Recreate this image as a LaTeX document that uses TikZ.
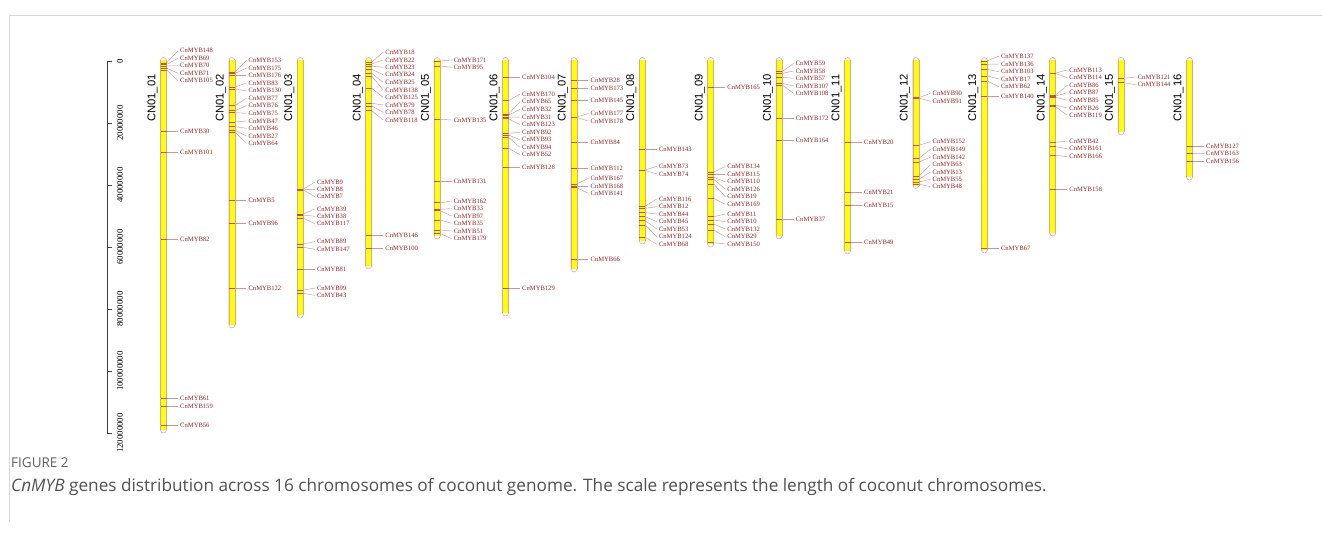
\documentclass[tikz,border=0pt]{standalone}
\usepackage{fontspec}
\setmainfont{Liberation Serif}
\newfontfamily\chrfont{Liberation Sans}
\newfontfamily\capfont{Open Sans}
\definecolor{genetxt}{RGB}{150,35,35}
\definecolor{linkcol}{RGB}{205,150,150}
\definecolor{markcol}{RGB}{180,90,45}
\definecolor{barline}{RGB}{215,165,165}
\definecolor{baryel}{RGB}{255,255,0}
\definecolor{framecol}{RGB}{215,215,215}
\definecolor{captcol}{RGB}{95,95,95}

% one gene: #1 chromosome x, #2 position on the bar, #3 label y, #4 gene number
\newcommand{\gn}[4]{%
  \draw[mk] ({#1-3},#2) -- ({#1+3},#2);
  \coordinate (m#4) at ({#1+3},#2);
  \node[gl] (g#4) at ({#1+14.5},#3) {CnMYB#4};
  \draw[cn] (m#4) -- (g#4.west);
}
% one chromosome: #1 number, #2 x, #3 bottom end
\newcommand{\chrom}[3]{%
  \draw[barline, line width=0.5pt, fill=white, rounded corners=3pt] ({#2-3},57.5) rectangle ({#2+3},{#3+3});
  \fill[baryel] ({#2-3},60.5) rectangle ({#2+3},#3);
  \draw[barline, line width=0.5pt] ({#2-3},60.5) -- ({#2-3},#3) ({#2+3},60.5) -- ({#2+3},#3);
  \node[chrlab] (chr#1) at ({#2-11},98) {CN01\_#1};
}

\begin{document}
\begin{tikzpicture}[x=1pt,y=-1pt,
  gl/.style={anchor=west, inner xsep=2pt, inner ysep=0pt, text=genetxt,
    font=\fontsize{6.6}{7}\selectfont},
  cn/.style={linkcol, line width=0.45pt},
  mk/.style={markcol, line width=0.55pt},
  chrlab/.style={rotate=90, inner sep=0pt, font=\chrfont\fontsize{11.2}{12}\selectfont},
  axlab/.style={rotate=90, inner sep=0pt, font=\fontsize{8.8}{9}\selectfont},
  axline/.style={black!75, line width=0.8pt}]
\useasboundingbox (0,0) rectangle (1322,535);

% page frame
\draw[framecol, line width=0.8pt] (1322,15) -- (9,15) -- (9,522);

% length scale
\draw[axline] (107,61) -- (107,433);
\foreach \k/\lab in {0/0,1/20000000,2/40000000,3/60000000,4/80000000,5/100000000,6/120000000}{
  \draw[axline] (107,{61+62*\k}) -- (112,{61+62*\k});
  \node[axlab] (ax\k) at (120,{61+62*\k}) {\lab};
}

% chromosomes
\chrom{01}{163.5}{430}
\chrom{02}{231.9}{325}
\chrom{03}{300.3}{315}
\chrom{04}{368.7}{266}
\chrom{05}{437.1}{236}
\chrom{06}{505.5}{313}
\chrom{07}{573.9}{269}
\chrom{08}{642.3}{241}
\chrom{09}{710.7}{244}
\chrom{10}{779.1}{236}
\chrom{11}{847.5}{251}
\chrom{12}{915.9}{185.5}
\chrom{13}{984.3}{250}
\chrom{14}{1052.7}{233}
\chrom{15}{1121.1}{132}
\chrom{16}{1189.5}{177}

% CN01_01
\gn{163.5}{63}{50.7}{148}
\gn{163.5}{64.5}{58.3}{69}
\gn{163.5}{66}{65.7}{70}
\gn{163.5}{68}{73.3}{71}
\gn{163.5}{70}{80.7}{105}
\gn{163.5}{131}{131}{30}
\gn{163.5}{152.7}{152.7}{101}
\gn{163.5}{239.3}{239.3}{82}
\gn{163.5}{398.3}{398.3}{61}
\gn{163.5}{406.7}{406.7}{159}
\gn{163.5}{425.7}{425.7}{56}
% CN01_02
\gn{231.9}{72}{60.3}{153}
\gn{231.9}{73.5}{68}{175}
\gn{231.9}{75.3}{75.3}{176}
\gn{231.9}{87}{83}{83}
\gn{231.9}{89.3}{90.7}{130}
\gn{231.9}{105.7}{98.3}{77}
\gn{231.9}{110.7}{105.7}{76}
\gn{231.9}{112.7}{113.3}{75}
\gn{231.9}{122}{121}{47}
\gn{231.9}{126.7}{128.3}{46}
\gn{231.9}{130.3}{136}{27}
\gn{231.9}{132}{143.3}{64}
\gn{231.9}{200}{200}{5}
\gn{231.9}{223.3}{223.3}{96}
\gn{231.9}{288.3}{288.3}{122}
% CN01_03
\gn{300.3}{189}{182.3}{9}
\gn{300.3}{189.5}{189.3}{8}
\gn{300.3}{190}{196.7}{7}
\gn{300.3}{214}{209}{39}
\gn{300.3}{215}{216.3}{38}
\gn{300.3}{218.3}{223.7}{117}
\gn{300.3}{244}{241.7}{89}
\gn{300.3}{247.3}{249.3}{147}
\gn{300.3}{269}{269}{81}
\gn{300.3}{290}{288}{99}
\gn{300.3}{293.3}{295.3}{43}
% CN01_04
\gn{368.7}{62}{52.3}{18}
\gn{368.7}{64}{60}{22}
\gn{368.7}{66}{67.3}{23}
\gn{368.7}{69.3}{74.7}{24}
\gn{368.7}{73.3}{82.3}{25}
\gn{368.7}{76}{90}{138}
\gn{368.7}{88.3}{97.3}{125}
\gn{368.7}{103.3}{105}{79}
\gn{368.7}{106}{112.3}{78}
\gn{368.7}{110.7}{120}{118}
\gn{368.7}{235.3}{235.3}{146}
\gn{368.7}{248.7}{248.7}{100}
% CN01_05
\gn{437.1}{61}{60}{171}
\gn{437.1}{66}{67.3}{95}
\gn{437.1}{119.3}{120}{135}
\gn{437.1}{181.3}{181.3}{131}
\gn{437.1}{202.7}{201}{162}
\gn{437.1}{209.3}{208.7}{33}
\gn{437.1}{210.7}{216}{97}
\gn{437.1}{220}{223.3}{35}
\gn{437.1}{230}{231}{51}
\gn{437.1}{233.3}{238.7}{179}
% CN01_06
\gn{505.5}{77.3}{77.3}{104}
\gn{505.5}{100.7}{94}{170}
\gn{505.5}{114}{101.7}{65}
\gn{505.5}{115}{109.3}{32}
\gn{505.5}{117.3}{117}{31}
\gn{505.5}{118.7}{124.7}{123}
\gn{505.5}{133.3}{132.3}{92}
\gn{505.5}{135}{139.7}{93}
\gn{505.5}{137.3}{147.3}{94}
\gn{505.5}{148.3}{154.7}{52}
\gn{505.5}{167.3}{167.3}{128}
\gn{505.5}{288}{288}{129}
% CN01_07
\gn{573.9}{80}{80}{28}
\gn{573.9}{88.3}{88.3}{173}
\gn{573.9}{100.7}{100.7}{145}
\gn{573.9}{117}{113.3}{177}
\gn{573.9}{117.5}{121}{178}
\gn{573.9}{142}{142}{84}
\gn{573.9}{168.7}{168.7}{112}
\gn{573.9}{184}{178.3}{167}
\gn{573.9}{186}{186}{168}
\gn{573.9}{187.7}{193.3}{141}
\gn{573.9}{259}{259}{66}
% CN01_08
\gn{642.3}{149.3}{149.3}{143}
\gn{642.3}{170}{166.3}{73}
\gn{642.3}{170.5}{174}{74}
\gn{642.3}{206}{199}{116}
\gn{642.3}{208.3}{206.7}{12}
\gn{642.3}{212.7}{214}{44}
\gn{642.3}{216.7}{221.7}{45}
\gn{642.3}{220.7}{229}{53}
\gn{642.3}{225}{236.7}{124}
\gn{642.3}{237.3}{244.3}{68}
% CN01_09
\gn{710.7}{87.7}{87.7}{165}
\gn{710.7}{172}{166.7}{134}
\gn{710.7}{174.3}{174.3}{115}
\gn{710.7}{177.3}{181.7}{110}
\gn{710.7}{179.3}{189}{126}
\gn{710.7}{184}{196.7}{19}
\gn{710.7}{198.3}{204.3}{169}
\gn{710.7}{216.7}{214}{11}
\gn{710.7}{220}{221.7}{10}
\gn{710.7}{224}{229}{132}
\gn{710.7}{230}{236.7}{29}
\gn{710.7}{242.7}{244}{150}
% CN01_10
\gn{779.1}{71.7}{63.3}{59}
\gn{779.1}{73.3}{71}{58}
\gn{779.1}{77.3}{78.3}{57}
\gn{779.1}{83.3}{86}{107}
\gn{779.1}{85}{93.3}{108}
\gn{779.1}{118.7}{118.7}{172}
\gn{779.1}{140.7}{140.7}{164}
\gn{779.1}{219.3}{219.3}{37}
% CN01_11
\gn{847.5}{142.3}{142.3}{20}
\gn{847.5}{192.3}{192.3}{21}
\gn{847.5}{205.7}{205.7}{15}
\gn{847.5}{242.3}{242.3}{49}
% CN01_12
\gn{915.9}{97.7}{93.3}{90}
\gn{915.9}{98}{101.3}{91}
\gn{915.9}{145.3}{141.7}{152}
\gn{915.9}{158.3}{149.3}{149}
\gn{915.9}{162.3}{157}{142}
\gn{915.9}{176}{164.7}{63}
\gn{915.9}{179.3}{172}{13}
\gn{915.9}{182}{179.3}{55}
\gn{915.9}{184}{186.7}{48}
% CN01_13
\gn{984.3}{61}{56}{137}
\gn{984.3}{64.3}{64}{136}
\gn{984.3}{69.3}{71.7}{103}
\gn{984.3}{76}{79}{17}
\gn{984.3}{81}{86.7}{62}
\gn{984.3}{96}{96}{140}
\gn{984.3}{248.3}{248.3}{67}
% CN01_14
\gn{1052.7}{73}{70}{113}
\gn{1052.7}{73.5}{77.7}{114}
\gn{1052.7}{95}{85.3}{86}
\gn{1052.7}{96}{92.7}{87}
\gn{1052.7}{97.3}{100.3}{85}
\gn{1052.7}{105}{108}{26}
\gn{1052.7}{106.7}{115.3}{119}
\gn{1052.7}{142.3}{141}{42}
\gn{1052.7}{146.7}{148.7}{161}
\gn{1052.7}{155.3}{156.7}{166}
\gn{1052.7}{189.3}{189.3}{158}
% CN01_15
\gn{1121.1}{78.3}{77}{121}
\gn{1121.1}{82.7}{84.7}{144}
% CN01_16
\gn{1189.5}{146}{146}{127}
\gn{1189.5}{153.3}{153.7}{163}
\gn{1189.5}{161.3}{161.3}{156}

% caption
\node[anchor=west, inner sep=0pt, text=captcol, font=\capfont\fontsize{13.5}{15}\selectfont] (figno) at (11,463) {FIGURE 2};
\node[anchor=west, inner sep=0pt, text=captcol!85!black, font=\capfont\fontsize{17.2}{19}\selectfont] (captext) at (11,487)
  {\textit{CnMYB} genes distribution across 16 chromosomes of coconut genome. The scale represents the length of coconut chromosomes.};
\end{tikzpicture}
\end{document}
